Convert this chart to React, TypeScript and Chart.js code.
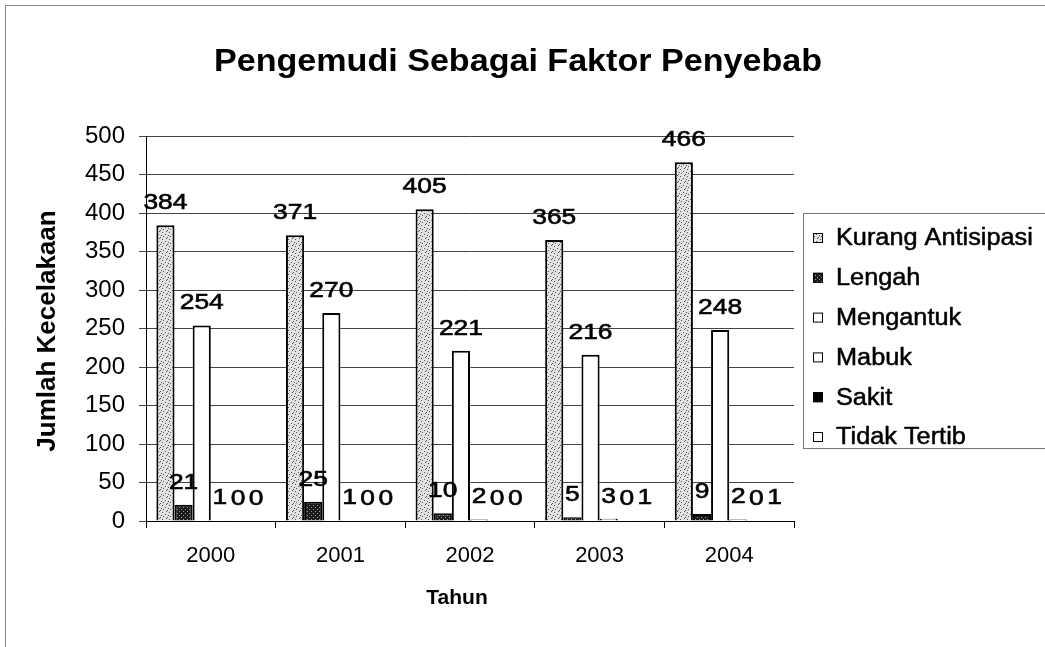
import React, { useEffect, useRef } from 'react';
import { Chart, registerables } from 'chart.js';

Chart.register(...registerables);

const years = ['2000', '2001', '2002', '2003', '2004'];
const seriesNames = ['Kurang Antisipasi', 'Lengah', 'Mengantuk', 'Mabuk', 'Sakit', 'Tidak Tertib'];
const kurangAntisipasi = [384, 371, 405, 365, 466];
const lengah = [21, 25, 10, 5, 9];
const mengantuk = [254, 270, 221, 216, 248];
const mabuk = [1, 1, 2, 3, 2];
const sakit = [0, 0, 0, 0, 0];
const tidakTertib = [0, 0, 0, 1, 1];
const yMin = 0;
const yMax = 500;
const yStep = 50;
const chartTitle = 'Pengemudi Sebagai Faktor Penyebab';
const xTitle = 'Tahun';
const yTitle = 'Jumlah Kecelakaan';

const FONT = "'Liberation Sans', Arial, sans-serif";

function makePattern(bg: string, dot: string, size: number, dots: number[][]): CanvasPattern | string {
  const c = document.createElement('canvas');
  c.width = size;
  c.height = size;
  const g = c.getContext('2d');
  if (!g) return bg;
  g.fillStyle = bg;
  g.fillRect(0, 0, size, size);
  g.fillStyle = dot;
  dots.forEach(([x, y]) => g.fillRect(x, y, 1, 1));
  const p = g.createPattern(c, 'repeat');
  return p || bg;
}

function stretchedText(ctx: CanvasRenderingContext2D, text: string, x: number, y: number, sx: number, heavy = 0) {
  ctx.save();
  ctx.translate(x, y);
  ctx.scale(sx, 1);
  ctx.fillText(text, 0, 0);
  if (heavy > 0) {
    ctx.lineWidth = heavy;
    ctx.strokeStyle = '#000';
    ctx.strokeText(text, 0, 0);
  }
  ctx.restore();
}

export default function App() {
  const ref = useRef<HTMLCanvasElement | null>(null);

  useEffect(() => {
    const canvas = ref.current;
    if (!canvas) return;
    const stipple = makePattern('#e2e2e2', '#555', 7, [[1, 1], [4, 3], [2, 5], [6, 6], [5, 0], [0, 4]]);
    const hatch = makePattern('#1a1a1a', '#9a9a9a', 4, [[1, 1], [3, 3]]);

    const fills: (CanvasPattern | string)[] = [stipple, hatch, '#ffffff', '#ffffff', '#000000', '#ffffff'];
    const values = [kurangAntisipasi, lengah, mengantuk, mabuk, sakit, tidakTertib];

    const overlay = {
      id: 'overlay',
      afterDatasetsDraw(chart: any) {
        const ctx = chart.ctx as CanvasRenderingContext2D;
        ctx.save();
        ctx.fillStyle = '#000';
        ctx.font = `22px ${FONT}`;
        ctx.textAlign = 'center';
        ctx.textBaseline = 'alphabetic';
        chart.data.datasets.forEach((ds: any, i: number) => {
          const meta = chart.getDatasetMeta(i);
          meta.data.forEach((el: any, j: number) => {
            stretchedText(ctx, String(ds.data[j]), el.x, el.y - 16, 1.2, 0.6);
          });
        });
        ctx.restore();
      },
      afterDraw(chart: any) {
        const ctx = chart.ctx as CanvasRenderingContext2D;
        ctx.save();
        // outer frame
        ctx.strokeStyle = '#888';
        ctx.lineWidth = 1;
        ctx.beginPath();
        ctx.moveTo(5.5, 647);
        ctx.lineTo(5.5, 5.5);
        ctx.lineTo(1045, 5.5);
        ctx.stroke();

        ctx.fillStyle = '#000';
        // title
        ctx.font = `bold 31px ${FONT}`;
        ctx.textAlign = 'center';
        ctx.textBaseline = 'middle';
        const tw = ctx.measureText(chartTitle).width;
        stretchedText(ctx, chartTitle, 518, 62, 608 / tw);
        // x title
        ctx.font = `bold 21px ${FONT}`;
        ctx.fillText(xTitle, 457, 598);
        // y title
        ctx.save();
        ctx.translate(48, 331);
        ctx.rotate(-Math.PI / 2);
        ctx.font = `bold 26px ${FONT}`;
        ctx.fillText(yTitle, 0, 0);
        ctx.restore();

        // legend
        ctx.strokeStyle = '#777';
        ctx.lineWidth = 1;
        ctx.strokeRect(803.5, 213.5, 260, 235);
        ctx.font = `23px ${FONT}`;
        ctx.textAlign = 'left';
        ctx.textBaseline = 'middle';
        chart.data.datasets.forEach((ds: any, i: number) => {
          const y = 238 + i * 39.8;
          ctx.fillStyle = ds.backgroundColor;
          ctx.fillRect(813, y - 5, 10, 10);
          ctx.strokeStyle = '#000';
          ctx.lineWidth = 1;
          ctx.strokeRect(813.5, y - 4.5, 9, 9);
          ctx.fillStyle = '#000';
          stretchedText(ctx, ds.label, 836, y + 1, 1.1, 0.5);
        });
        ctx.restore();
      },
    };

    const chart = new Chart(canvas, {
      type: 'bar',
      data: {
        labels: years,
        datasets: seriesNames.map((name, i) => ({
          label: name,
          data: values[i],
          backgroundColor: fills[i] as any,
          borderColor: '#000',
          borderWidth: 2,
          borderSkipped: 'bottom' as any,
          categoryPercentage: 0.84,
          barPercentage: 1.0,
        })),
      },
      options: {
        animation: false,
        responsive: true,
        maintainAspectRatio: false,
        layout: { padding: { top: 136, right: 251, left: 0, bottom: 0 } },
        plugins: {
          legend: { display: false },
          title: { display: false },
          tooltip: { enabled: false },
        },
        scales: {
          x: {
            afterFit: (s: any) => {
              s.height = 126;
            },
            grid: {
              display: true,
              drawOnChartArea: false,
              drawTicks: true,
              tickLength: 7,
              color: '#000',
              offset: true,
            },
            border: { display: true, color: '#000', width: 1 },
            ticks: {
              color: '#000',
              font: { family: FONT, size: 22 },
              padding: 15,
            },
          },
          y: {
            min: yMin,
            max: yMax,
            afterFit: (s: any) => {
              s.width = 146;
            },
            grid: {
              color: '#444',
              lineWidth: 1,
              tickLength: 7,
            },
            border: { display: true, color: '#000', width: 1 },
            ticks: {
              stepSize: yStep,
              color: '#000',
              font: { family: FONT, size: 24 },
              padding: 14,
            },
          },
        },
      },
      plugins: [overlay],
    });

    return () => {
      chart.destroy();
    };
  }, []);

  return (
    <div style={{ position: 'absolute', left: 0, top: 0, width: 1045, height: 647, background: '#fff' }}>
      <canvas ref={ref} />
    </div>
  );
}
